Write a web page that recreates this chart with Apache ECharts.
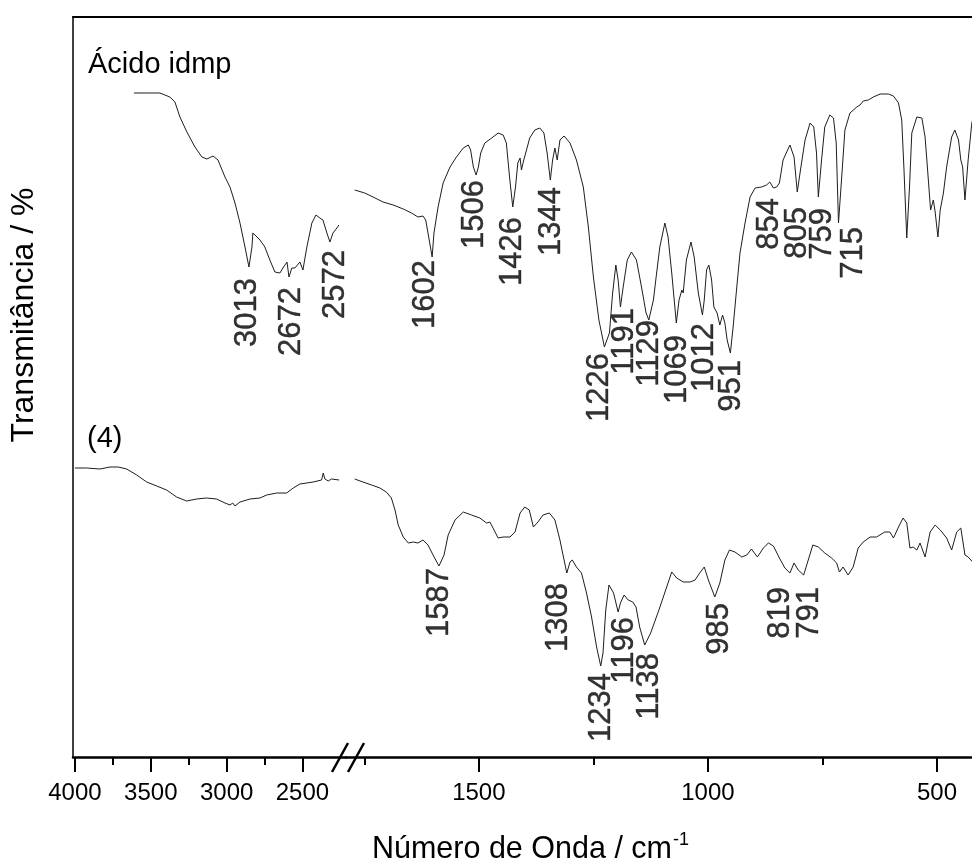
<!DOCTYPE html>
<html>
<head>
<meta charset="utf-8">
<title>FTIR – Ácido idmp e complexo (4)</title>
<script src="https://cdn.jsdelivr.net/npm/echarts@6/dist/echarts.min.js"></script>
<style>
  html, body { margin: 0; padding: 0; background: #fff; }
  #chart { width: 972px; height: 864px; }
</style>
</head>
<body>
<div id="chart"></div>
<script>
// ---- Ácido idmp, 4000–2200 cm-1 region ----
const acidoHighWn = [3611,3539,3473,3440,3407,3374,3341,3308,3262,3209,3163,3130,3090,3057,3011,2978,2945,2912,2879,2853,2833,2827,2813,2800,2780,2748,2715,2682,2649,2629,2616,2602,2589,2570,2550,2537,2517,2497,2471,2438,2411,2385,2365,2339,2319,2299,2273,2260];
const acidoHighT = [66.4,66.4,66.4,66.4,66.2,66.0,65.5,64.0,62.5,61.0,60.0,59.8,60.1,59.7,58.0,57.0,55.4,53.4,51.0,49.0,51.0,52.4,52.2,52.0,51.7,51.0,49.7,48.5,48.4,48.9,48.7,49.5,48.0,48.9,48.9,48.7,49.5,48.7,51.0,53.4,54.2,53.9,53.7,52.4,51.5,52.4,52.9,53.2];

// ---- Ácido idmp, 1800–400 cm-1 region ----
const acidoLowWn = [1771,1749,1731,1709,1687,1665,1647,1633,1622,1616,1611,1602,1598,1589,1578,1563,1549,1534,1523,1518,1512,1506,1501,1496,1487,1472,1458,1447,1440,1433,1426,1420,1415,1410,1407,1402,1396,1389,1378,1367,1358,1351,1344,1339,1334,1329,1323,1314,1301,1287,1272,1261,1250,1238,1226,1215,1208,1201,1196,1191,1185,1176,1167,1156,1145,1135,1129,1119,1112,1105,1094,1087,1079,1069,1063,1057,1054,1047,1037,1030,1021,1012,1008,1003,998,992,987,980,974,968,963,958,951,945,937,930,919,908,897,883,872,865,857,850,844,836,821,812,805,798,788,777,769,763,759,752,745,734,726,720,715,708,701,690,675,668,661,650,639,624,606,595,584,577,572,566,560,555,544,533,526,521,514,508,504,498,493,486,479,468,461,453,448,444,439,432,424,417];
const acidoLowT = [56.7,56.4,56.0,55.5,55.2,54.8,54.4,54.0,54.1,53.7,52.4,50.0,52.4,55.0,57.4,59.0,60.0,60.9,61.2,60.7,59.0,58.2,59.0,60.4,61.4,61.9,62.4,62.2,61.4,58.0,55.0,57.0,59.4,59.9,58.7,59.7,60.7,61.9,62.7,62.9,62.4,60.4,57.7,59.7,60.9,59.7,61.7,62.1,61.4,59.7,57.0,53.0,48.0,43.7,41.0,42.4,46.4,49.2,47.7,45.0,47.0,49.7,50.5,49.7,47.0,44.4,43.7,45.7,48.4,51.0,53.4,52.0,48.4,43.4,45.7,46.7,46.4,49.7,51.5,50.0,46.4,44.2,45.7,48.7,49.2,47.7,45.0,44.4,43.2,44.2,43.4,41.7,40.4,43.0,47.0,50.4,53.4,56.0,56.9,57.0,57.2,57.5,56.9,57.0,57.4,59.7,61.2,60.0,56.5,58.7,61.7,63.4,63.0,60.4,56.0,59.7,63.0,64.2,63.9,61.4,53.4,58.0,62.7,64.4,65.0,65.2,65.6,65.7,66.0,66.3,66.3,66.1,65.4,63.7,58.7,51.9,57.0,62.4,64.0,63.9,62.0,59.0,54.7,55.7,54.5,52.0,54.7,56.4,59.0,62.0,62.7,61.7,59.7,59.0,55.7,59.7,63.4,64.7];

// ---- Complexo (4), 4000–2200 cm-1 region ----
const complexHighWn = [4000,3923,3835,3769,3715,3659,3593,3527,3461,3396,3330,3264,3198,3132,3066,3011,2978,2960,2945,2912,2846,2780,2736,2670,2604,2561,2517,2429,2374,2363,2352,2330,2308,2258];
const complexHighT = [28.9,28.9,28.8,29.0,29.0,28.8,28.2,27.5,27.1,26.7,26.0,25.6,25.8,25.9,25.8,25.4,25.2,25.4,25.1,25.5,25.8,25.9,26.2,26.4,26.4,26.9,27.3,27.5,27.7,28.4,27.8,27.6,27.8,27.7];

// ---- Complexo (4), 1800–400 cm-1 region ----
const complexLowWn = [1771,1753,1734,1716,1702,1691,1683,1676,1665,1654,1643,1633,1622,1611,1600,1587,1576,1567,1552,1534,1516,1498,1483,1476,1469,1458,1447,1432,1421,1410,1400,1390,1381,1371,1360,1346,1334,1323,1314,1308,1301,1296,1287,1276,1265,1254,1243,1234,1229,1223,1216,1206,1196,1191,1183,1174,1164,1157,1149,1138,1125,1107,1090,1079,1068,1054,1039,1028,1018,1008,999,985,974,963,953,941,926,915,905,892,879,868,857,844,832,821,812,803,791,781,771,759,745,730,719,713,705,694,683,672,661,646,632,614,603,595,584,574,566,559,552,544,537,526,515,504,493,479,468,457,448,443,439,432,422,415];
const complexLowT = [27.8,27.5,27.2,26.9,26.5,25.9,24.7,23.2,22.0,21.4,21.5,21.4,21.7,21.2,20.2,19.1,20.2,22.2,23.7,24.5,24.2,23.9,23.4,23.5,22.9,21.9,22.0,22.0,22.5,24.4,25.0,24.7,23.0,23.5,24.2,24.4,23.7,21.7,19.7,18.4,19.5,19.7,19.0,18.4,16.4,14.0,11.0,9.1,10.4,14.7,17.2,16.4,14.5,15.4,16.2,15.7,15.5,15.0,13.0,11.2,12.4,14.7,17.0,18.5,17.9,17.5,17.5,17.7,18.4,19.0,17.7,16.0,17.4,19.7,20.7,20.5,20.0,20.2,20.8,20.0,20.9,21.4,21.1,19.9,18.9,18.4,19.4,18.7,18.2,19.7,21.2,21.0,20.4,19.9,19.4,18.5,19.0,18.2,19.0,20.9,21.5,22.0,22.0,22.5,22.5,21.9,23.0,23.9,23.4,20.9,21.0,20.7,21.4,20.0,22.5,23.2,22.7,21.9,20.7,22.5,22.9,21.4,20.2,20.0,19.5,19.8];

// ---- Band annotations: text, where the label sits (cm-1), top of the label ----
const acidoHighPeakText = ['3013', '2672', '2572'];
const acidoHighPeakAt = [2879, 2583, 2299];
const acidoHighPeakTop = [47.9, 47.0, 50.7];

const acidoLowPeakText = ['1602','1506','1426','1344','1226','1191','1129','1069','1012','951','854','805','759','715'];
const acidoLowPeakAt = [1620,1515,1430,1347,1242,1186,1131,1070,1013,954,869,810,755,686];
const acidoLowPeakTop = [49.7,57.7,54.0,57.0,40.4,44.9,43.7,42.2,43.4,39.7,55.9,55.0,54.9,53.0];

const complexLowPeakText = ['1587','1308','1234','1196','1138','985','819','791'];
const complexLowPeakAt = [1590,1330,1236,1186,1131,980,847,782];
const complexLowPeakTop = [18.9,17.4,8.4,14.0,10.4,15.4,17.0,17.0];

// ---- Axis ticks for the two segments of the broken wavenumber axis ----
const highMajorTicks = [4000, 3500, 3000, 2500];
const highMinorTicks = [3750, 3250, 2750];
const lowMajorTicks = [1500, 1000, 500];
const lowMinorTicks = [1750, 1250, 750];

const FONT = '"Liberation Sans", Arial, Helvetica, sans-serif';
const INK = '#000';
const TRACE = '#1e1e1e';

const zip = (xs, ys) => xs.map((x, i) => [x, ys[i]]);

function segmentAxes(grid, min, max, major, minor) {
  return [
    {
      gridIndex: grid, type: 'value', min, max, inverse: true, position: 'bottom',
      axisLine: { show: true, onZero: false, lineStyle: { color: INK, width: 2.5 } },
      axisTick: { show: true, inside: false, length: 15, customValues: major,
                  lineStyle: { color: INK, width: 2 } },
      axisLabel: { show: true, customValues: major, margin: 24, fontSize: 24,
                   color: INK, fontFamily: FONT, formatter: v => String(v) },
      splitLine: { show: false }
    },
    {
      gridIndex: grid, type: 'value', min, max, inverse: true, position: 'bottom',
      axisLine: { show: false, onZero: false },
      axisTick: { show: true, inside: false, length: 8, customValues: minor,
                  lineStyle: { color: INK, width: 2 } },
      axisLabel: { show: false },
      splitLine: { show: false }
    },
    {
      gridIndex: grid, type: 'value', min, max, inverse: true, position: 'top',
      axisLine: { show: true, onZero: false, lineStyle: { color: INK, width: 2 } },
      axisTick: { show: false }, axisLabel: { show: false }, splitLine: { show: false }
    }
  ];
}

function traceSeries(axis, wn, t) {
  return {
    type: 'line', xAxisIndex: axis, yAxisIndex: axis === 0 ? 0 : 1,
    data: zip(wn, t), showSymbol: false, symbol: 'none', smooth: false,
    lineStyle: { color: TRACE, width: 1 }, silent: true, clip: true
  };
}

function peakLabels(axis, at, top, text) {
  return {
    type: 'scatter', xAxisIndex: axis, yAxisIndex: axis === 0 ? 0 : 1,
    data: zip(at, top), symbolSize: 1, itemStyle: { color: 'rgba(0,0,0,0)' },
    silent: true,
    label: {
      show: true, position: 'inside', rotate: 90, align: 'right', verticalAlign: 'middle',
      offset: [0, 2], fontSize: 31, color: INK, fontFamily: FONT,
      textBorderColor: INK, textBorderWidth: 0.4,
      formatter: p => text[p.dataIndex]
    }
  };
}

const chart = echarts.init(document.getElementById('chart'), null, { renderer: 'canvas' });

chart.setOption({
  animation: false,
  backgroundColor: '#fff',
  grid: [
    { left: 73, top: 17, width: 273, height: 740 },
    { left: 346, top: 17, width: 626, height: 740 }
  ],
  xAxis: [
    ...segmentAxes(0, 2213, 4013, highMajorTicks, highMinorTicks),
    ...segmentAxes(1, 423.6, 1790, lowMajorTicks, lowMinorTicks)
  ],
  yAxis: [
    { gridIndex: 0, type: 'value', min: 0, max: 74,
      axisLine: { show: true, lineStyle: { color: INK, width: 1.5 } },
      axisTick: { show: false }, axisLabel: { show: false }, splitLine: { show: false } },
    { gridIndex: 1, type: 'value', min: 0, max: 74, show: false,
      axisLine: { show: false }, axisTick: { show: false }, axisLabel: { show: false },
      splitLine: { show: false } }
  ],
  series: [
    traceSeries(0, acidoHighWn, acidoHighT),
    traceSeries(3, acidoLowWn, acidoLowT),
    traceSeries(0, complexHighWn, complexHighT),
    traceSeries(3, complexLowWn, complexLowT),
    peakLabels(0, acidoHighPeakAt, acidoHighPeakTop, acidoHighPeakText),
    peakLabels(3, acidoLowPeakAt, acidoLowPeakTop, acidoLowPeakText),
    peakLabels(3, complexLowPeakAt, complexLowPeakTop, complexLowPeakText)
  ],
  graphic: [
    // axis break marks
    { type: 'line', z: 100, shape: { x1: 332, y1: 772, x2: 348, y2: 743 },
      style: { stroke: INK, lineWidth: 2.5 } },
    { type: 'line', z: 100, shape: { x1: 348, y1: 772, x2: 364, y2: 743 },
      style: { stroke: INK, lineWidth: 2.5 } },
    // sample names
    { type: 'text', x: 88, y: 65, z: 100,
      style: { text: 'Ácido idmp', fontSize: 29, fontFamily: FONT, fill: INK,
               align: 'left', verticalAlign: 'middle' } },
    { type: 'text', x: 87, y: 439, z: 100,
      style: { text: '(4)', fontSize: 29, fontFamily: FONT, fill: INK,
               align: 'left', verticalAlign: 'middle' } },
    // axis titles
    { type: 'text', x: 24, y: 315, rotation: Math.PI / 2, z: 100,
      style: { text: 'Transmitância / %', fontSize: 32, fontFamily: FONT, fill: INK,
               align: 'center', verticalAlign: 'middle' } },
    { type: 'text', x: 672, y: 850, z: 100,
      style: { text: 'Número de Onda / cm', fontSize: 30.5, fontFamily: FONT, fill: INK,
               align: 'right', verticalAlign: 'middle' } },
    { type: 'text', x: 673, y: 831, z: 100,
      style: { text: '-1', fontSize: 18, fontFamily: FONT, fill: INK,
               align: 'left', verticalAlign: 'top' } }
  ]
});
</script>
</body>
</html>
